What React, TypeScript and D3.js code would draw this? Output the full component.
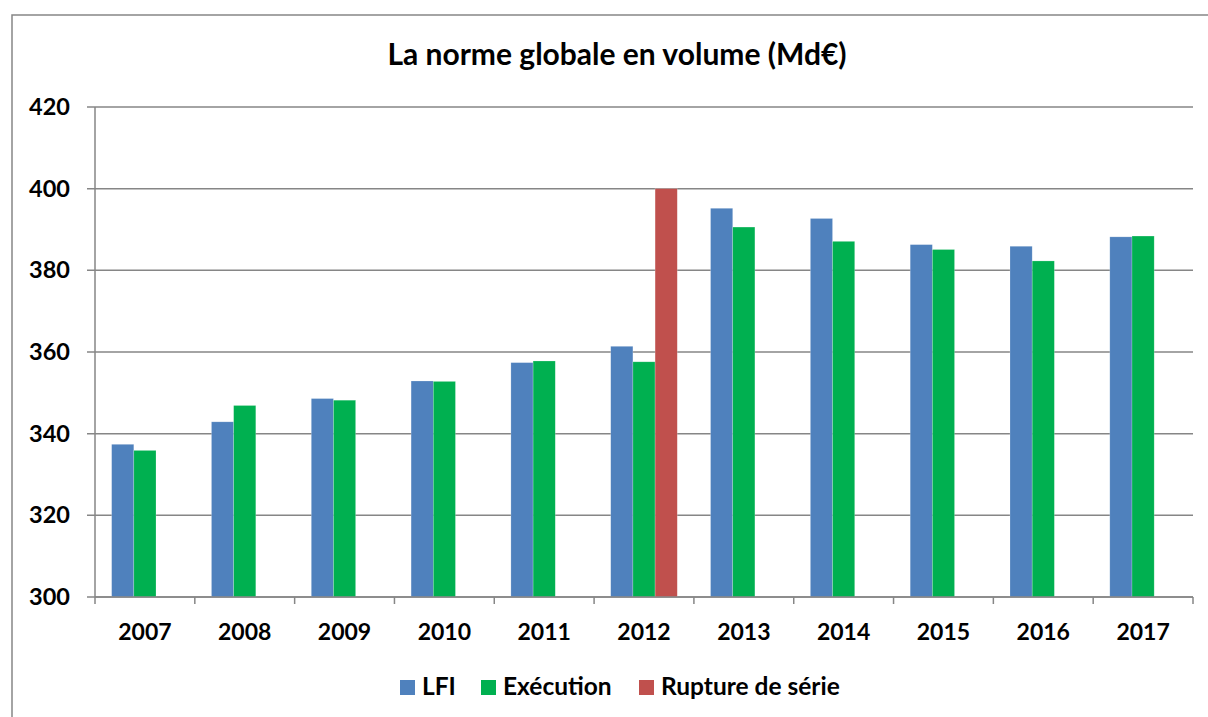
import React from 'react';
import * as d3 from 'd3';

const years = ['2007', '2008', '2009', '2010', '2011', '2012', '2013', '2014', '2015', '2016', '2017'];
const lfi = [337.4, 342.9, 348.6, 352.9, 357.4, 361.4, 395.2, 392.7, 386.3, 385.9, 388.2];
const execution = [335.9, 346.9, 348.2, 352.8, 357.8, 357.6, 390.6, 387.1, 385.1, 382.3, 388.4];
const rupture = [null, null, null, null, null, 400, null, null, null, null, null];
const yTicks = [300, 320, 340, 360, 380, 400, 420];
const seriesNames = ['LFI', 'Exécution', 'Rupture de série'];
const seriesColors = ['#4F81BD', '#00B050', '#C0504D'];

const W = 1208;
const H = 717;
const font = 'Lato, "Open Sans", sans-serif';

const App = () => {
	const left = 95;
	const right = 1193;
	const top = 107;
	const bottom = 597;

	const x = d3.scaleBand().domain(years).range([left, right]);
	// excel gap width 150% -> 3 bars + 1.5 gap per band
	const barW = x.bandwidth() / 4.5;
	const y = d3.scaleLinear().domain([300, 420]).range([bottom, top]);

	const series = [lfi, execution, rupture];

	return (
		<svg width={W} height={H} style={{ display: 'block', position: 'absolute', left: 0, top: 0 }}>
			<rect x={0} y={0} width={W} height={H} fill="#fff" />
			<rect x={12} y={15} width={1210} height={720} fill="none" stroke="#868686" strokeWidth={1.5} />

			<text x={617} y={65} textAnchor="middle" fontFamily={font} fontWeight="bold" fontSize={30} fill="#000">
				La norme globale en volume (Md€)
			</text>

			{yTicks.map(t => (
				<g key={t}>
					<line x1={left - 8} x2={right} y1={y(t)} y2={y(t)} stroke="#868686" strokeWidth={1.5} />
					<text x={70} y={y(t) + 8} textAnchor="end" fontFamily={font} fontWeight="bold" fontSize={23.5} fill="#000">
						{t}
					</text>
				</g>
			))}

			<line x1={left} x2={left} y1={top} y2={bottom} stroke="#868686" strokeWidth={1.5} />

			{series.map((vals, si) =>
				vals.map((v, i) =>
					v == null ? null : (
						<rect
							key={`${si}-${i}`}
							x={(x(years[i]) as number) + barW * 0.75 + si * barW}
							y={y(v)}
							width={barW}
							height={bottom - y(v)}
							fill={seriesColors[si]}
							stroke="#ffffff"
							strokeOpacity={0.35}
							strokeWidth={0.6}
						/>
					)
				)
			)}

			<line x1={left} x2={right} y1={bottom} y2={bottom} stroke="#868686" strokeWidth={1.5} />
			{years.map(yr => (
				<line key={`t${yr}`} x1={x(yr)} x2={x(yr)} y1={bottom} y2={bottom + 7} stroke="#868686" strokeWidth={1.5} />
			))}
			<line x1={right} x2={right} y1={bottom} y2={bottom + 7} stroke="#868686" strokeWidth={1.5} />

			{years.map(yr => (
				<text
					key={`l${yr}`}
					x={(x(yr) as number) + x.bandwidth() / 2}
					y={640}
					textAnchor="middle"
					fontFamily={font}
					fontWeight="bold"
					fontSize={23}
					fill="#000"
				>
					{yr}
				</text>
			))}

			{seriesNames.map((name, i) => {
				const lx = [400, 481, 639][i];
				return (
					<g key={name}>
						<rect x={lx} y={680} width={15} height={15} fill={seriesColors[i]} />
						<text x={lx + 22} y={695} fontFamily={font} fontWeight="bold" fontSize={24.5} fill="#000">
							{name}
						</text>
					</g>
				);
			})}
		</svg>
	);
};

export default App;
